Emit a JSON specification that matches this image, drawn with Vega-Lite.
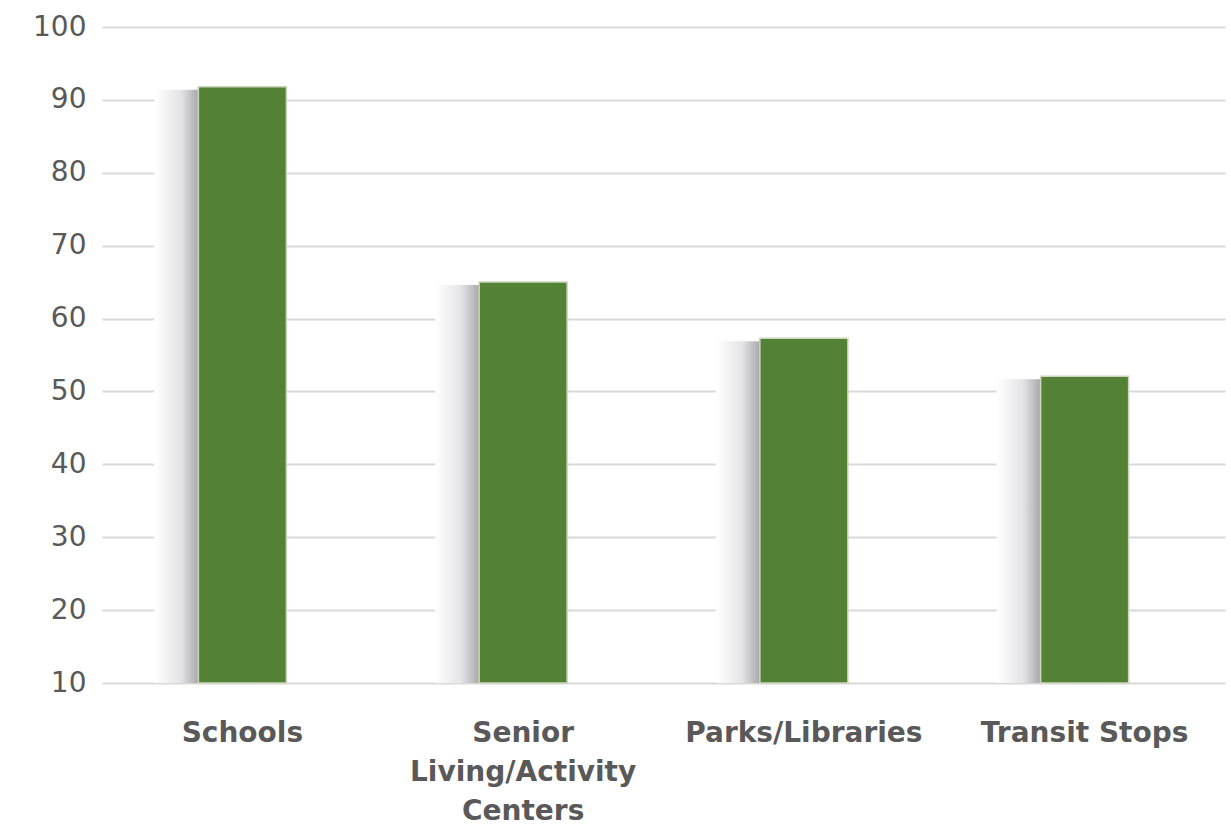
{
  "$schema": "https://vega.github.io/schema/vega-lite/v6.json",
  "autosize": {"type": "none"},
  "padding": {"left": 102, "top": 27, "right": 6, "bottom": 148},
  "width": 1123,
  "height": 656,
  "background": "white",
  "view": {"stroke": null},
  "data": {
    "values": [
      {"category": "Schools", "value": 91.8},
      {"category": "Senior Living/Activity Centers", "value": 65.0},
      {"category": "Parks/Libraries", "value": 57.3},
      {"category": "Transit Stops", "value": 52.1}
    ]
  },
  "encoding": {
    "x": {
      "field": "category",
      "type": "nominal",
      "sort": null,
      "scale": {"paddingInner": 0, "paddingOuter": 0},
      "axis": {
        "title": null,
        "domain": false,
        "ticks": false,
        "labelAngle": 0,
        "labelFont": "DejaVu Sans",
        "labelFontWeight": "bold",
        "labelFontSize": 28,
        "labelColor": "#595959",
        "labelPadding": 36,
        "labelLimit": 400,
        "labelLineHeight": 39,
        "labelExpr": "datum.value == 'Senior Living/Activity Centers' ? ['Senior', 'Living/Activity', 'Centers'] : datum.value"
      }
    },
    "y": {
      "field": "value",
      "type": "quantitative",
      "scale": {"domain": [10, 100], "nice": false, "zero": false},
      "axis": {
        "title": null,
        "domain": false,
        "ticks": false,
        "values": [10, 20, 30, 40, 50, 60, 70, 80, 90, 100],
        "grid": true,
        "gridColor": "#d9d9d9",
        "gridWidth": 2,
        "labelFont": "DejaVu Sans",
        "labelFontSize": 28,
        "labelColor": "#595959",
        "labelPadding": 16
      }
    },
    "y2": {"datum": 10}
  },
  "layer": [
    {
      "mark": {
        "type": "bar",
        "width": 44,
        "xOffset": -66,
        "yOffset": 3,
        "color": {
          "gradient": "linear",
          "x1": 0, "y1": 0, "x2": 1, "y2": 0,
          "stops": [
            {"offset": 0, "color": "#ffffff"},
            {"offset": 0.6, "color": "#e4e4e6"},
            {"offset": 1, "color": "#a8a8aa"}
          ]
        }
      }
    },
    {
      "mark": {
        "type": "bar",
        "width": 88,
        "color": "#538135",
        "stroke": "#cbd6bd",
        "strokeWidth": 1.5
      }
    }
  ]
}
